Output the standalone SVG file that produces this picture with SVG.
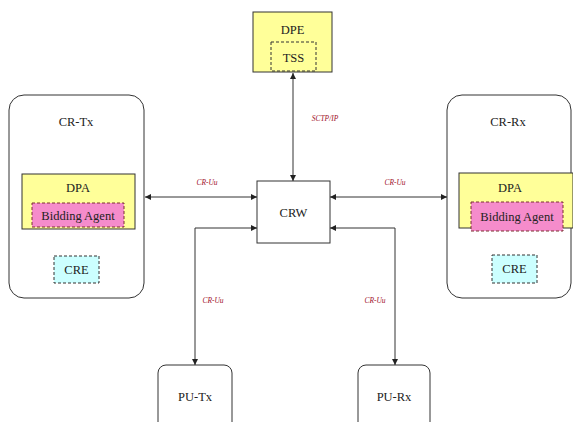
<svg xmlns="http://www.w3.org/2000/svg" width="573" height="422" viewBox="0 0 573 422">
<style>
.box{fill:#fff;stroke:#333;stroke-width:1}
.t{font-family:"Liberation Serif",serif;font-size:12.5px;fill:#222;text-anchor:middle}
.lbl{font-family:"Liberation Serif",serif;font-size:7.5px;font-style:italic;fill:#a0102a;text-anchor:middle}
.yel{fill:#ffff99;stroke:#333;stroke-width:1}
.pink{fill:#f58ccb;stroke:#7a3030;stroke-width:1;stroke-dasharray:3 2}
.cyan{fill:#ccffff;stroke:#333;stroke-width:1;stroke-dasharray:3 2}
.tssb{fill:none;stroke:#333;stroke-width:1;stroke-dasharray:3 2}
.c{fill:none;stroke:#333;stroke-width:1}
</style>
<defs>
<marker id="a" viewBox="0 0 10 10" refX="10" refY="5" markerWidth="6" markerHeight="6" orient="auto-start-reverse" markerUnits="userSpaceOnUse">
<path d="M0,0 L10,5 L0,10 z" fill="#222"/>
</marker>
</defs>
<rect width="573" height="422" fill="#fff"/>
<g id="DPE">
<rect class="yel" x="253" y="12" width="79" height="60"/>
<text class="t" x="292.5" y="34">DPE</text>
<rect class="tssb" x="271" y="42" width="45" height="29"/>
<text class="t" x="293.5" y="62">TSS</text>
</g>
<g id="CR-Tx">
<rect class="box" x="9" y="95" width="135" height="203" rx="15"/>
<text class="t" x="76" y="126">CR-Tx</text>
<rect class="yel" x="22" y="174" width="113" height="55"/>
<text class="t" x="78" y="192">DPA</text>
<rect class="pink" x="32" y="203" width="92" height="24"/>
<text class="t" x="78" y="220">Bidding Agent</text>
<rect class="cyan" x="54" y="256" width="45" height="27"/>
<text class="t" x="76.5" y="274">CRE</text>
</g>
<g id="CR-Rx">
<rect class="box" x="447" y="95" width="124" height="203" rx="15"/>
<text class="t" x="508" y="126">CR-Rx</text>
<rect class="yel" x="459" y="173" width="114" height="55"/>
<text class="t" x="510" y="192">DPA</text>
<rect class="pink" x="471" y="202" width="92" height="29"/>
<text class="t" x="517" y="221">Bidding Agent</text>
<rect class="cyan" x="492" y="255" width="45" height="28"/>
<text class="t" x="514.5" y="273">CRE</text>
</g>
<g id="CRW">
<rect class="box" x="257" y="181" width="73" height="62"/>
<text class="t" x="293.5" y="217">CRW</text>
</g>
<g id="PU-Tx">
<rect class="box" x="158" y="365" width="74" height="70" rx="8"/>
<text class="t" x="195" y="401">PU-Tx</text>
</g>
<g id="PU-Rx">
<rect class="box" x="358" y="365" width="72" height="70" rx="8"/>
<text class="t" x="394" y="401">PU-Rx</text>
</g>
<g id="connectors">
<line class="c" x1="293" y1="73" x2="293" y2="181" marker-start="url(#a)" marker-end="url(#a)"/>
<text class="lbl" x="325" y="121">SCTP/IP</text>
<line class="c" x1="145" y1="197" x2="257" y2="197" marker-start="url(#a)" marker-end="url(#a)"/>
<text class="lbl" x="207" y="185">CR-Uu</text>
<line class="c" x1="330" y1="197" x2="447" y2="197" marker-start="url(#a)" marker-end="url(#a)"/>
<text class="lbl" x="395" y="185">CR-Uu</text>
<polyline class="c" points="257,228 195,228 195,365" marker-start="url(#a)" marker-end="url(#a)"/>
<text class="lbl" x="213" y="303">CR-Uu</text>
<polyline class="c" points="330,228 395,228 395,365" marker-start="url(#a)" marker-end="url(#a)"/>
<text class="lbl" x="375" y="303">CR-Uu</text>
</g>
</svg>
